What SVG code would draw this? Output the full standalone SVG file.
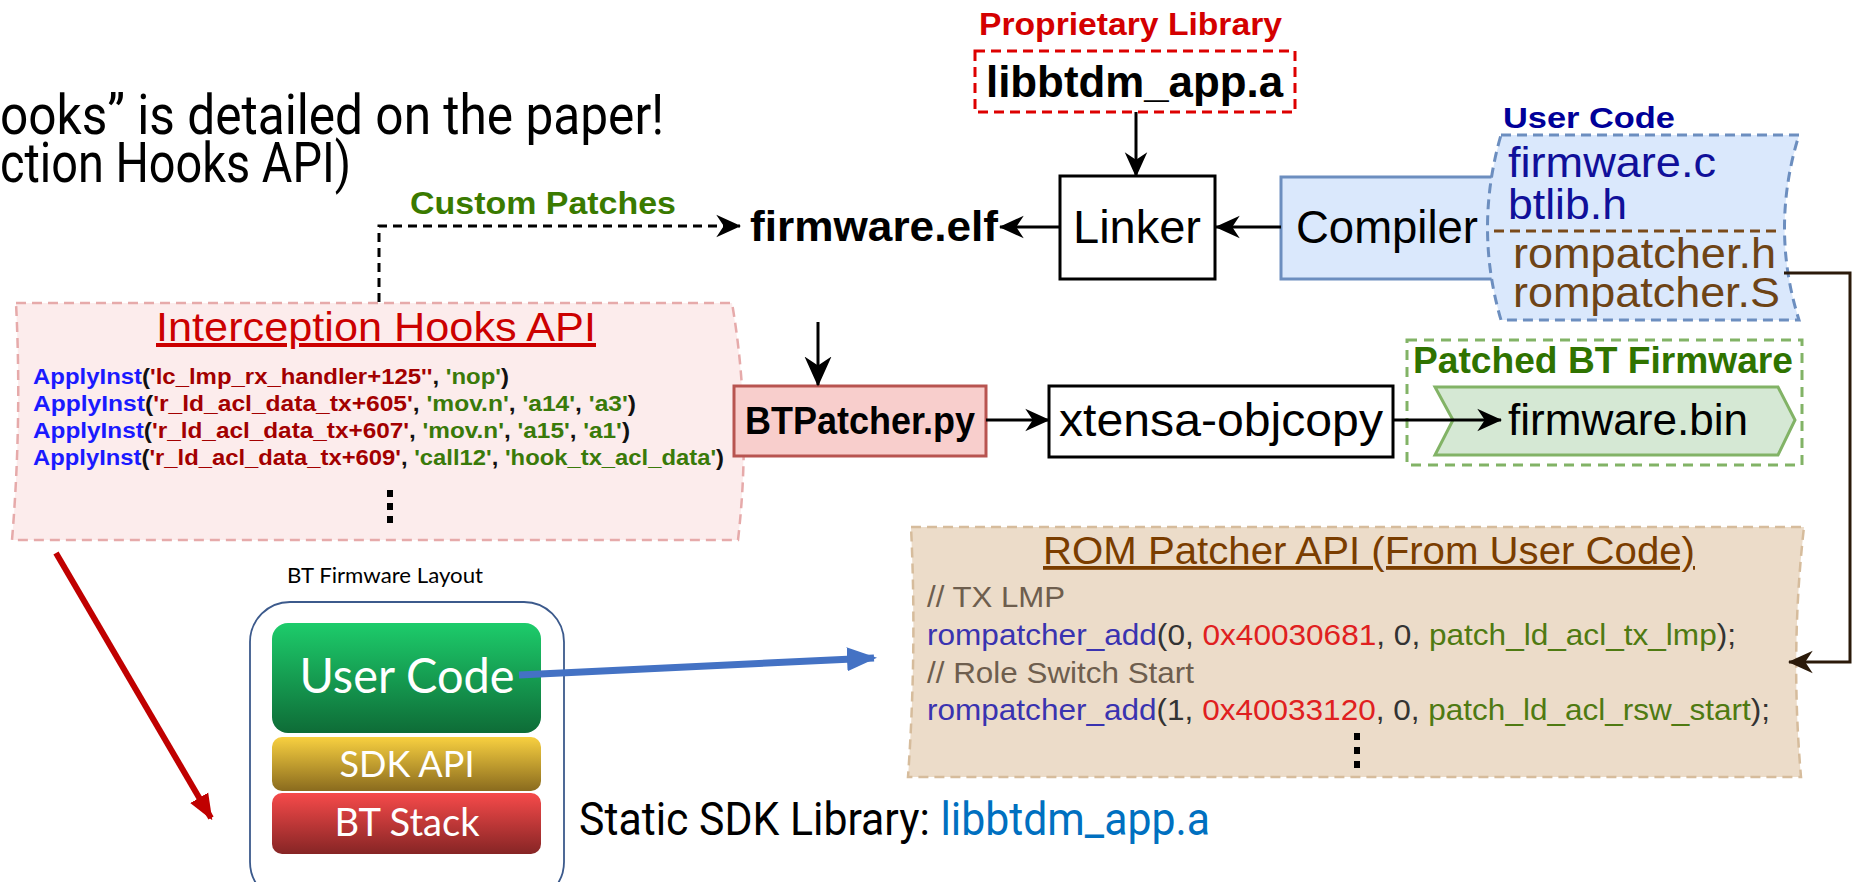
<svg xmlns="http://www.w3.org/2000/svg" width="1856" height="882" viewBox="0 0 1856 882">
  <style>
    .sans { font-family: "Liberation Sans", Arial, sans-serif; }
    .cond { font-family: Roboto, "Liberation Sans", sans-serif; }
    .hum { font-family: Lato, "Open Sans", sans-serif; }
    .b { font-weight: bold; }
    .box { fill: #ffffff; stroke: #000000; stroke-width: 3; }
    .wire { fill: none; stroke: #000000; stroke-width: 3; }
    .blk { fill: #000000; }
    .kw { fill: #1a1aff; }
    .str { fill: #a30000; }
    .arg { fill: #3a7a0a; }
    .pun { fill: #111111; }
    .fn { fill: #3a33b0; }
    .hex { fill: #e02020; }
    .num { fill: #333333; }
    .pat { fill: #4f7a12; }
    .cmt { fill: #6e5e4e; }
    .wt { fill: #ffffff; }
  </style>
  <defs>
    <marker id="ah" viewBox="0 0 20 20" refX="19" refY="10" markerWidth="25" markerHeight="25" markerUnits="userSpaceOnUse" orient="auto">
      <path d="M0,1 L20,10 L0,19 L6,10 z" fill="#000000"/>
    </marker>
    <marker id="ahBig" viewBox="0 0 20 20" refX="19" refY="10" markerWidth="30" markerHeight="30" markerUnits="userSpaceOnUse" orient="auto">
      <path d="M0,1 L20,10 L0,19 L6,10 z" fill="#000000"/>
    </marker>
    <marker id="ahBrown" viewBox="0 0 20 20" refX="19" refY="10" markerWidth="25" markerHeight="25" markerUnits="userSpaceOnUse" orient="auto">
      <path d="M0,1 L20,10 L0,19 L6,10 z" fill="#2b1a0a"/>
    </marker>
    <marker id="ahRed" viewBox="0 0 20 20" refX="18" refY="10" markerWidth="26" markerHeight="26" markerUnits="userSpaceOnUse" orient="auto">
      <path d="M0,2 L20,10 L0,18 z" fill="#c00000"/>
    </marker>
    <marker id="ahBlue" viewBox="0 0 20 20" refX="18" refY="10" markerWidth="30" markerHeight="30" markerUnits="userSpaceOnUse" orient="auto">
      <path d="M0,2 L20,10 L0,18 z" fill="#4472c4"/>
    </marker>
    <linearGradient id="gGreen" x1="0" y1="0" x2="0" y2="1">
      <stop offset="0" stop-color="#1dcc6b"/>
      <stop offset="1" stop-color="#0e6c37"/>
    </linearGradient>
    <linearGradient id="gYellow" x1="0" y1="0" x2="0" y2="1">
      <stop offset="0" stop-color="#f8d040"/>
      <stop offset="1" stop-color="#8a6b1e"/>
    </linearGradient>
    <linearGradient id="gRed" x1="0" y1="0" x2="0" y2="1">
      <stop offset="0" stop-color="#f64a4a"/>
      <stop offset="1" stop-color="#862525"/>
    </linearGradient>
  </defs>

  <!-- heading text, cut at the left edge -->
  <g id="heading" class="cond" font-size="56" fill="#000000">
    <text x="0" y="134" textLength="664" lengthAdjust="spacingAndGlyphs">ooks” is detailed on the paper!</text>
    <text x="0" y="182" textLength="351" lengthAdjust="spacingAndGlyphs">ction Hooks API)</text>
  </g>

  <!-- proprietary library -->
  <g id="libbtdm">
    <text x="979" y="35" class="sans b" font-size="32" fill="#d40000" textLength="303" lengthAdjust="spacingAndGlyphs">Proprietary Library</text>
    <rect x="975" y="51" width="320" height="61" fill="#ffffff" stroke="#dd0000" stroke-width="3" stroke-dasharray="10 6"/>
    <text x="986" y="97" class="sans b" font-size="44" fill="#000000" textLength="297" lengthAdjust="spacingAndGlyphs">libbtdm_app.a</text>
  </g>

  <!-- linker -->
  <g id="linker">
    <rect class="box" x="1060" y="176" width="155" height="103"/>
    <text x="1137" y="243" class="sans" font-size="46" text-anchor="middle" textLength="128" lengthAdjust="spacingAndGlyphs">Linker</text>
  </g>

  <!-- firmware.elf -->
  <g id="firmware-elf">
    <text x="750" y="241" class="sans b" font-size="42" textLength="248" lengthAdjust="spacingAndGlyphs">firmware.elf</text>
  </g>

  <!-- compiler -->
  <g id="compiler">
    <rect x="1281" y="177" width="240" height="102" fill="#dae8fc" stroke="#6c8ebf" stroke-width="3"/>
    <text x="1296" y="243" class="sans" font-size="46" textLength="182" lengthAdjust="spacingAndGlyphs">Compiler</text>
  </g>

  <!-- user code sources -->
  <g id="user-code">
    <text x="1503" y="128" class="sans b" font-size="30" fill="#000099" textLength="172" lengthAdjust="spacingAndGlyphs">User Code</text>
    <path d="M1501,135 L1799,135 Q1770,228 1799,320 L1501,320 Q1474,228 1501,135 Z" fill="#dae8fc" stroke="#6c8ebf" stroke-width="3" stroke-dasharray="10 6"/>
    <text x="1508" y="177" class="sans" font-size="42" fill="#10109a" textLength="208" lengthAdjust="spacingAndGlyphs">firmware.c</text>
    <text x="1508" y="219" class="sans" font-size="42" fill="#10109a" textLength="119" lengthAdjust="spacingAndGlyphs">btlib.h</text>
    <line x1="1494" y1="231" x2="1782" y2="231" stroke="#7a4a1a" stroke-width="3" stroke-dasharray="10 6"/>
    <text x="1513" y="268" class="sans" font-size="42" fill="#6e4416" textLength="263" lengthAdjust="spacingAndGlyphs">rompatcher.h</text>
    <text x="1513" y="307" class="sans" font-size="42" fill="#6e4416" textLength="267" lengthAdjust="spacingAndGlyphs">rompatcher.S</text>
  </g>

  <!-- interception hooks api -->
  <g id="interception-hooks">
    <path d="M16,303 L732,303 Q752,420 738,540 L12,540 Q22,420 16,303 Z" fill="#fcecec" stroke="#e6aaaa" stroke-width="2.5" stroke-dasharray="10 6"/>
    <text x="376" y="341" class="sans" font-size="40" fill="#cc0000" text-anchor="middle" text-decoration="underline" textLength="440" lengthAdjust="spacingAndGlyphs">Interception Hooks API</text>
    <g class="sans b" font-size="22">
      <text x="33" y="384" textLength="476" lengthAdjust="spacingAndGlyphs"><tspan class="kw">ApplyInst</tspan><tspan class="pun">(</tspan><tspan class="str">'lc_lmp_rx_handler+125''</tspan><tspan class="pun">, </tspan><tspan class="arg">'nop'</tspan><tspan class="pun">)</tspan></text>
      <text x="33" y="411" textLength="603" lengthAdjust="spacingAndGlyphs"><tspan class="kw">ApplyInst</tspan><tspan class="pun">(</tspan><tspan class="str">'r_ld_acl_data_tx+605'</tspan><tspan class="pun">, </tspan><tspan class="arg">'mov.n'</tspan><tspan class="pun">, </tspan><tspan class="arg">'a14'</tspan><tspan class="pun">, </tspan><tspan class="arg">'a3'</tspan><tspan class="pun">)</tspan></text>
      <text x="33" y="438" textLength="597" lengthAdjust="spacingAndGlyphs"><tspan class="kw">ApplyInst</tspan><tspan class="pun">(</tspan><tspan class="str">'r_ld_acl_data_tx+607'</tspan><tspan class="pun">, </tspan><tspan class="arg">'mov.n'</tspan><tspan class="pun">, </tspan><tspan class="arg">'a15'</tspan><tspan class="pun">, </tspan><tspan class="arg">'a1'</tspan><tspan class="pun">)</tspan></text>
      <text x="33" y="465" textLength="691" lengthAdjust="spacingAndGlyphs"><tspan class="kw">ApplyInst</tspan><tspan class="pun">(</tspan><tspan class="str">'r_ld_acl_data_tx+609'</tspan><tspan class="pun">, </tspan><tspan class="arg">'call12'</tspan><tspan class="pun">, </tspan><tspan class="arg">'hook_tx_acl_data'</tspan><tspan class="pun">)</tspan></text>
    </g>
    <g class="blk">
      <rect x="387" y="490" width="6" height="7"/>
      <rect x="387" y="503" width="6" height="7"/>
      <rect x="387" y="516" width="6" height="7"/>
    </g>
  </g>

  <!-- patcher -->
  <g id="btpatcher">
    <rect x="734" y="386" width="252" height="70" fill="#f8cecc" stroke="#b85450" stroke-width="3"/>
    <text x="860" y="434" class="sans b" font-size="38" text-anchor="middle" textLength="230" lengthAdjust="spacingAndGlyphs">BTPatcher.py</text>
  </g>

  <!-- objcopy -->
  <g id="objcopy">
    <rect class="box" x="1049" y="386" width="344" height="71"/>
    <text x="1221" y="436" class="sans" font-size="46" text-anchor="middle" textLength="324" lengthAdjust="spacingAndGlyphs">xtensa-objcopy</text>
  </g>

  <!-- patched firmware -->
  <g id="patched-firmware">
    <rect x="1407" y="340" width="395" height="125" fill="none" stroke="#82b366" stroke-width="3" stroke-dasharray="10 7"/>
    <text x="1413" y="373" class="sans b" font-size="36" fill="#2f7300" textLength="380" lengthAdjust="spacingAndGlyphs">Patched BT Firmware</text>
    <path d="M1435,387 L1778,387 L1795,420 L1778,455 L1435,455 L1453,420 Z" fill="#d5e8d4" stroke="#82b366" stroke-width="3"/>
    <text x="1508" y="435" class="sans" font-size="44" textLength="240" lengthAdjust="spacingAndGlyphs">firmware.bin</text>
  </g>

  <!-- rom patcher api -->
  <g id="rom-patcher">
    <path d="M911,527 L1804,527 Q1790,650 1801,777 L908,777 Q917,650 911,527 Z" fill="#ecdcc9" stroke="#d6bc9c" stroke-width="2.5" stroke-dasharray="10 6"/>
    <text x="1369" y="564" class="sans" font-size="38" fill="#7a3d00" text-anchor="middle" text-decoration="underline" textLength="652" lengthAdjust="spacingAndGlyphs">ROM Patcher API (From User Code)</text>
    <g class="sans" font-size="29">
      <text x="927" y="607" class="cmt" textLength="138" lengthAdjust="spacingAndGlyphs">// TX LMP</text>
      <text x="927" y="645" textLength="809" lengthAdjust="spacingAndGlyphs"><tspan class="fn">rompatcher_add</tspan><tspan class="num">(0, </tspan><tspan class="hex">0x40030681</tspan><tspan class="num">, 0, </tspan><tspan class="pat">patch_ld_acl_tx_lmp</tspan><tspan class="num">);</tspan></text>
      <text x="927" y="683" class="cmt" textLength="267" lengthAdjust="spacingAndGlyphs">// Role Switch Start</text>
      <text x="927" y="720" textLength="843" lengthAdjust="spacingAndGlyphs"><tspan class="fn">rompatcher_add</tspan><tspan class="num">(1, </tspan><tspan class="hex">0x40033120</tspan><tspan class="num">, 0, </tspan><tspan class="pat">patch_ld_acl_rsw_start</tspan><tspan class="num">);</tspan></text>
    </g>
    <g class="blk">
      <rect x="1354" y="733" width="6" height="7"/>
      <rect x="1354" y="747" width="6" height="7"/>
      <rect x="1354" y="761" width="6" height="7"/>
    </g>
  </g>

  <!-- firmware layout -->
  <g id="fw-layout">
    <text x="287" y="583" class="hum" font-size="21" textLength="196" lengthAdjust="spacingAndGlyphs">BT Firmware Layout</text>
    <rect x="250" y="602" width="314" height="300" rx="40" ry="40" fill="#ffffff" stroke="#3c5a8c" stroke-width="1.8"/>
    <rect x="272" y="623" width="269" height="110" rx="16" fill="url(#gGreen)"/>
    <text x="407" y="693" class="hum wt" font-size="48" text-anchor="middle" textLength="215" lengthAdjust="spacingAndGlyphs">User Code</text>
    <rect x="272" y="737" width="269" height="54" rx="10" fill="url(#gYellow)"/>
    <text x="407" y="777" class="hum wt" font-size="36" text-anchor="middle" textLength="135" lengthAdjust="spacingAndGlyphs">SDK API</text>
    <rect x="272" y="793" width="269" height="61" rx="10" fill="url(#gRed)"/>
    <text x="407" y="836" class="hum wt" font-size="38" text-anchor="middle" textLength="145" lengthAdjust="spacingAndGlyphs">BT Stack</text>
  </g>

  <!-- static library caption -->
  <g id="static-sdk">
    <text x="579" y="835" class="cond" font-size="46" textLength="631" lengthAdjust="spacingAndGlyphs"><tspan fill="#000000">Static SDK Library: </tspan><tspan fill="#0070c0">libbtdm_app.a</tspan></text>
  </g>

  <!-- connectors, drawn over the nodes -->
  <g id="connectors">
    <line class="wire" x1="1136" y1="112" x2="1136" y2="176" marker-end="url(#ah)"/>
    <line class="wire" x1="1281" y1="227" x2="1216" y2="227" marker-end="url(#ah)"/>
    <line class="wire" x1="1060" y1="227" x2="1000" y2="227" marker-end="url(#ah)"/>
    <polyline class="wire" points="379,302 379,226 740,226" stroke-dasharray="9 6" marker-end="url(#ah)"/>
    <line class="wire" x1="818" y1="322" x2="818" y2="385" stroke-width="4" marker-end="url(#ahBig)"/>
    <line class="wire" x1="986" y1="420" x2="1049" y2="420" marker-end="url(#ah)"/>
    <line class="wire" x1="1393" y1="420" x2="1501" y2="420" marker-end="url(#ah)"/>
    <polyline points="1784,273 1850,273 1850,662 1789,662" fill="none" stroke="#2b1a0a" stroke-width="3" marker-end="url(#ahBrown)"/>
    <line x1="56" y1="553" x2="211" y2="818" stroke="#c00000" stroke-width="6" marker-end="url(#ahRed)"/>
    <line x1="519" y1="675" x2="874" y2="658" stroke="#4472c4" stroke-width="7" marker-end="url(#ahBlue)"/>
    <text x="410" y="214" class="sans b" font-size="31" fill="#3a7a00" textLength="266" lengthAdjust="spacingAndGlyphs">Custom Patches</text>
  </g>
</svg>
